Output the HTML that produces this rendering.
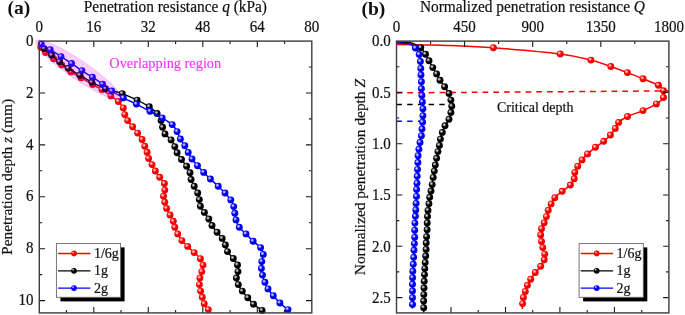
<!DOCTYPE html>
<html><head><meta charset="utf-8"><style>
html,body{margin:0;padding:0;background:#fff;}
svg{display:block;will-change:transform;}
.t{font-family:"Liberation Serif",serif;font-size:14px;fill:#111;stroke:#111;stroke-width:0.2px;}
.n{font-size:15px;}
.lab{font-family:"Liberation Serif",serif;font-size:19.5px;font-weight:bold;fill:#111;}
</style></head><body>
<svg width="685" height="315" viewBox="0 0 685 315">
<defs><radialGradient id="hl" cx="0.5" cy="0.5" r="0.5"><stop offset="0" stop-color="#fff" stop-opacity="0.92"/><stop offset="0.4" stop-color="#fff" stop-opacity="0.6"/><stop offset="1" stop-color="#fff" stop-opacity="0"/></radialGradient><radialGradient id="br" cx="0.42" cy="0.4" r="0.62"><stop offset="0" stop-color="#ff0000"/><stop offset="0.7" stop-color="#ff0000"/><stop offset="1" stop-color="#c80000"/></radialGradient><g id="mr"><circle r="3.45" fill="url(#br)"/><circle cx="-0.85" cy="-1.0" r="2.1" fill="url(#hl)"/></g><g id="lr"><circle r="2.9" fill="#ff0000"/><circle cx="-0.9" cy="-1.0" r="1.35" fill="url(#hl)"/></g><radialGradient id="bk" cx="0.42" cy="0.4" r="0.62"><stop offset="0" stop-color="#000"/><stop offset="0.7" stop-color="#000"/><stop offset="1" stop-color="#000"/></radialGradient><g id="mk"><circle r="3.45" fill="url(#bk)"/><circle cx="-0.85" cy="-1.0" r="2.1" fill="url(#hl)"/></g><g id="lk"><circle r="2.9" fill="#000"/><circle cx="-0.9" cy="-1.0" r="1.35" fill="url(#hl)"/></g><radialGradient id="bb" cx="0.42" cy="0.4" r="0.62"><stop offset="0" stop-color="#0000ff"/><stop offset="0.7" stop-color="#0000ff"/><stop offset="1" stop-color="#0000c0"/></radialGradient><g id="mb"><circle r="3.45" fill="url(#bb)"/><circle cx="-0.85" cy="-1.0" r="2.1" fill="url(#hl)"/></g><g id="lb"><circle r="2.9" fill="#0000ff"/><circle cx="-0.9" cy="-1.0" r="1.35" fill="url(#hl)"/></g></defs>
<path d="M396.5,92.9 L668.9,90.9" stroke="#ff0000" stroke-width="1.5" stroke-dasharray="5.8,4.95" fill="none"/>
<path d="M396.5,104.4 L451,104.4" stroke="#000" stroke-width="1.5" stroke-dasharray="5.4,5.3" fill="none"/>
<path d="M396.5,121.3 L421,121.3" stroke="#0000ff" stroke-width="1.5" stroke-dasharray="5.4,5.3" fill="none"/>
<path d="M39.50,41.60 C39.65,42.55 39.40,45.48 40.40,47.30 C41.40,49.12 43.30,50.60 45.50,52.50 C47.70,54.40 50.90,56.63 53.60,58.70 C56.30,60.77 58.82,62.70 61.70,64.90 C64.58,67.10 67.67,69.75 70.90,71.90 C74.13,74.05 77.48,75.68 81.10,77.80 C84.72,79.92 89.13,82.65 92.60,84.60 C96.07,86.55 98.85,87.62 101.90,89.50 C104.95,91.38 108.17,93.90 110.90,95.90 C113.63,97.90 116.23,99.50 118.30,101.50 C120.37,103.50 122.22,105.72 123.30,107.90 C124.38,110.08 124.07,112.48 124.80,114.60 C125.53,116.72 126.40,118.57 127.70,120.60 C129.00,122.63 130.95,124.72 132.60,126.80 C134.25,128.88 136.02,130.98 137.60,133.10 C139.18,135.22 140.90,137.32 142.10,139.50 C143.30,141.68 143.97,144.08 144.80,146.20 C145.63,148.32 146.47,150.17 147.10,152.20 C147.73,154.23 147.78,156.33 148.60,158.40 C149.42,160.47 150.88,162.50 152.00,164.60 C153.12,166.70 154.02,168.88 155.30,171.00 C156.58,173.12 158.18,175.22 159.70,177.30 C161.22,179.38 163.55,181.37 164.40,183.50 C165.25,185.63 164.95,187.98 164.80,190.10 C164.65,192.22 163.50,194.18 163.50,196.20 C163.50,198.22 164.28,200.17 164.80,202.20 C165.32,204.23 165.73,206.27 166.60,208.40 C167.47,210.53 168.88,212.85 170.00,215.00 C171.12,217.15 172.50,219.25 173.30,221.30 C174.10,223.35 174.07,225.20 174.80,227.30 C175.53,229.40 176.52,231.68 177.70,233.90 C178.88,236.12 180.23,238.52 181.90,240.60 C183.57,242.68 185.65,244.40 187.70,246.40 C189.75,248.40 192.08,250.55 194.20,252.60 C196.32,254.65 198.93,256.62 200.40,258.70 C201.87,260.78 202.77,262.95 203.00,265.10 C203.23,267.25 202.32,269.45 201.80,271.60 C201.28,273.75 200.30,275.83 199.90,278.00 C199.50,280.17 199.28,282.42 199.40,284.60 C199.52,286.78 200.12,288.98 200.60,291.10 C201.08,293.22 201.70,295.20 202.30,297.30 C202.90,299.40 203.20,301.65 204.20,303.70 C205.20,305.75 207.35,308.20 208.30,309.60 C209.25,311.00 209.63,311.68 209.90,312.10" fill="none" stroke="#ff0000" stroke-width="1.5" stroke-linejoin="round"/><use href="#mr" x="40.8" y="47.3"/><use href="#mr" x="45.5" y="52.5"/><use href="#mr" x="53.6" y="58.7"/><use href="#mr" x="61.7" y="64.9"/><use href="#mr" x="70.9" y="71.9"/><use href="#mr" x="81.1" y="77.8"/><use href="#mr" x="92.6" y="84.6"/><use href="#mr" x="101.9" y="89.5"/><use href="#mr" x="110.9" y="95.9"/><use href="#mr" x="118.3" y="101.5"/><use href="#mr" x="123.3" y="107.9"/><use href="#mr" x="124.8" y="114.6"/><use href="#mr" x="127.7" y="120.6"/><use href="#mr" x="132.6" y="126.8"/><use href="#mr" x="137.6" y="133.1"/><use href="#mr" x="142.1" y="139.5"/><use href="#mr" x="144.8" y="146.2"/><use href="#mr" x="147.1" y="152.2"/><use href="#mr" x="148.6" y="158.4"/><use href="#mr" x="152.0" y="164.6"/><use href="#mr" x="155.3" y="171.0"/><use href="#mr" x="159.7" y="177.3"/><use href="#mr" x="164.4" y="183.5"/><use href="#mr" x="164.8" y="190.1"/><use href="#mr" x="163.5" y="196.2"/><use href="#mr" x="164.8" y="202.2"/><use href="#mr" x="166.6" y="208.4"/><use href="#mr" x="170.0" y="215.0"/><use href="#mr" x="173.3" y="221.3"/><use href="#mr" x="174.8" y="227.3"/><use href="#mr" x="177.7" y="233.9"/><use href="#mr" x="181.9" y="240.6"/><use href="#mr" x="187.7" y="246.4"/><use href="#mr" x="194.2" y="252.6"/><use href="#mr" x="200.4" y="258.7"/><use href="#mr" x="203.0" y="265.1"/><use href="#mr" x="201.8" y="271.6"/><use href="#mr" x="199.9" y="278.0"/><use href="#mr" x="199.4" y="284.6"/><use href="#mr" x="200.6" y="291.1"/><use href="#mr" x="202.3" y="297.3"/><use href="#mr" x="204.2" y="303.7"/><use href="#mr" x="208.3" y="309.6"/>
<path d="M39.50,41.60 C40.27,42.78 42.07,46.42 44.10,48.70 C46.13,50.98 49.12,53.12 51.70,55.30 C54.28,57.48 56.85,59.63 59.60,61.80 C62.35,63.97 64.83,66.07 68.20,68.30 C71.57,70.53 75.85,72.88 79.80,75.20 C83.75,77.52 87.62,79.95 91.90,82.20 C96.18,84.45 100.45,86.80 105.50,88.70 C110.55,90.60 116.93,91.70 122.20,93.60 C127.47,95.50 132.58,97.90 137.10,100.10 C141.62,102.30 145.97,104.57 149.30,106.80 C152.63,109.03 155.13,111.20 157.10,113.50 C159.07,115.80 160.18,118.30 161.10,120.60 C162.02,122.90 161.95,125.08 162.60,127.30 C163.25,129.52 163.58,131.80 165.00,133.90 C166.42,136.00 169.47,137.78 171.10,139.90 C172.73,142.02 173.80,144.45 174.80,146.60 C175.80,148.75 175.98,150.65 177.10,152.80 C178.22,154.95 179.92,157.27 181.50,159.50 C183.08,161.73 185.18,163.98 186.60,166.20 C188.02,168.42 189.25,170.58 190.00,172.80 C190.75,175.02 190.40,177.27 191.10,179.50 C191.80,181.73 193.10,183.95 194.20,186.20 C195.30,188.45 196.85,190.77 197.70,193.00 C198.55,195.23 198.85,197.40 199.30,199.60 C199.75,201.80 199.55,204.07 200.40,206.20 C201.25,208.33 203.00,210.27 204.40,212.40 C205.80,214.53 207.53,216.82 208.80,219.00 C210.07,221.18 210.62,223.30 212.00,225.50 C213.38,227.70 215.40,230.05 217.10,232.20 C218.80,234.35 220.82,236.27 222.20,238.40 C223.58,240.53 224.52,242.80 225.40,245.00 C226.28,247.20 226.18,249.35 227.50,251.60 C228.82,253.85 231.63,256.28 233.30,258.50 C234.97,260.72 236.72,262.72 237.50,264.90 C238.28,267.08 238.18,269.42 238.00,271.60 C237.82,273.78 236.35,275.83 236.40,278.00 C236.45,280.17 237.32,282.42 238.30,284.60 C239.28,286.78 240.72,288.92 242.30,291.10 C243.88,293.28 245.93,295.52 247.80,297.70 C249.67,299.88 251.12,302.08 253.50,304.20 C255.88,306.32 260.28,309.00 262.10,310.40 C263.92,311.80 264.02,312.23 264.40,312.60" fill="none" stroke="#000" stroke-width="1.5" stroke-linejoin="round"/><use href="#mk" x="44.1" y="48.7"/><use href="#mk" x="51.7" y="55.3"/><use href="#mk" x="59.6" y="61.8"/><use href="#mk" x="68.2" y="68.3"/><use href="#mk" x="79.8" y="75.2"/><use href="#mk" x="91.9" y="82.2"/><use href="#mk" x="105.5" y="88.7"/><use href="#mk" x="122.2" y="93.6"/><use href="#mk" x="137.1" y="100.1"/><use href="#mk" x="149.3" y="106.8"/><use href="#mk" x="157.1" y="113.5"/><use href="#mk" x="161.1" y="120.6"/><use href="#mk" x="162.6" y="127.3"/><use href="#mk" x="165.0" y="133.9"/><use href="#mk" x="171.1" y="139.9"/><use href="#mk" x="174.8" y="146.6"/><use href="#mk" x="177.1" y="152.8"/><use href="#mk" x="181.5" y="159.5"/><use href="#mk" x="186.6" y="166.2"/><use href="#mk" x="190.0" y="172.8"/><use href="#mk" x="191.1" y="179.5"/><use href="#mk" x="194.2" y="186.2"/><use href="#mk" x="197.7" y="193.0"/><use href="#mk" x="199.3" y="199.6"/><use href="#mk" x="200.4" y="206.2"/><use href="#mk" x="204.4" y="212.4"/><use href="#mk" x="208.8" y="219.0"/><use href="#mk" x="212.0" y="225.5"/><use href="#mk" x="217.1" y="232.2"/><use href="#mk" x="222.2" y="238.4"/><use href="#mk" x="225.4" y="245.0"/><use href="#mk" x="227.5" y="251.6"/><use href="#mk" x="233.3" y="258.5"/><use href="#mk" x="237.5" y="264.9"/><use href="#mk" x="238.0" y="271.6"/><use href="#mk" x="236.4" y="278.0"/><use href="#mk" x="238.3" y="284.6"/><use href="#mk" x="242.3" y="291.1"/><use href="#mk" x="247.8" y="297.7"/><use href="#mk" x="253.5" y="304.2"/><use href="#mk" x="262.1" y="310.4"/>
<path d="M39.50,41.60 C39.73,42.02 39.12,42.75 40.90,44.10 C42.68,45.45 46.85,47.62 50.20,49.70 C53.55,51.78 57.43,54.30 61.00,56.60 C64.57,58.90 68.12,61.17 71.60,63.50 C75.08,65.83 78.43,68.32 81.90,70.60 C85.37,72.88 88.95,74.95 92.40,77.20 C95.85,79.45 99.38,81.80 102.60,84.10 C105.82,86.40 108.25,88.70 111.70,91.00 C115.15,93.30 119.18,95.72 123.30,97.90 C127.42,100.08 131.95,101.87 136.40,104.10 C140.85,106.33 145.70,109.00 150.00,111.30 C154.30,113.60 158.50,115.68 162.20,117.90 C165.90,120.12 169.72,122.32 172.20,124.60 C174.68,126.88 175.73,129.20 177.10,131.60 C178.47,134.00 179.12,136.65 180.40,139.00 C181.68,141.35 183.50,143.47 184.80,145.70 C186.10,147.93 187.00,150.18 188.20,152.40 C189.40,154.62 190.45,156.78 192.00,159.00 C193.55,161.22 195.55,163.47 197.50,165.70 C199.45,167.93 201.55,170.18 203.70,172.40 C205.85,174.62 207.98,176.70 210.40,179.00 C212.82,181.30 215.77,183.87 218.20,186.20 C220.63,188.53 222.90,190.72 225.00,193.00 C227.10,195.28 229.35,197.63 230.80,199.90 C232.25,202.17 233.03,204.37 233.70,206.60 C234.37,208.83 234.42,211.08 234.80,213.30 C235.18,215.52 235.25,217.57 236.00,219.90 C236.75,222.23 237.63,224.97 239.30,227.30 C240.97,229.63 243.70,231.58 246.00,233.90 C248.30,236.22 250.67,238.92 253.10,241.20 C255.53,243.48 258.90,245.40 260.60,247.60 C262.30,249.80 263.10,252.07 263.30,254.40 C263.50,256.73 262.12,259.25 261.80,261.60 C261.48,263.95 261.28,266.25 261.40,268.50 C261.52,270.75 261.92,272.80 262.50,275.10 C263.08,277.40 263.98,280.00 264.90,282.30 C265.82,284.60 266.60,286.65 268.00,288.90 C269.40,291.15 271.32,293.45 273.30,295.80 C275.28,298.15 277.45,300.70 279.90,303.00 C282.35,305.30 286.33,308.17 288.00,309.60 C289.67,311.03 289.58,311.27 289.90,311.60" fill="none" stroke="#0000ff" stroke-width="1.5" stroke-linejoin="round"/><use href="#mb" x="41.3" y="44.1"/><use href="#mb" x="50.2" y="49.7"/><use href="#mb" x="61.0" y="56.6"/><use href="#mb" x="71.6" y="63.5"/><use href="#mb" x="81.9" y="70.6"/><use href="#mb" x="92.4" y="77.2"/><use href="#mb" x="102.6" y="84.1"/><use href="#mb" x="111.7" y="91.0"/><use href="#mb" x="123.3" y="97.9"/><use href="#mb" x="136.4" y="104.1"/><use href="#mb" x="150.0" y="111.3"/><use href="#mb" x="162.2" y="117.9"/><use href="#mb" x="172.2" y="124.6"/><use href="#mb" x="177.1" y="131.6"/><use href="#mb" x="180.4" y="139.0"/><use href="#mb" x="184.8" y="145.7"/><use href="#mb" x="188.2" y="152.4"/><use href="#mb" x="192.0" y="159.0"/><use href="#mb" x="197.5" y="165.7"/><use href="#mb" x="203.7" y="172.4"/><use href="#mb" x="210.4" y="179.0"/><use href="#mb" x="218.2" y="186.2"/><use href="#mb" x="225.0" y="193.0"/><use href="#mb" x="230.8" y="199.9"/><use href="#mb" x="233.7" y="206.6"/><use href="#mb" x="234.8" y="213.3"/><use href="#mb" x="236.0" y="219.9"/><use href="#mb" x="239.3" y="227.3"/><use href="#mb" x="246.0" y="233.9"/><use href="#mb" x="253.1" y="241.2"/><use href="#mb" x="260.6" y="247.6"/><use href="#mb" x="263.3" y="254.4"/><use href="#mb" x="261.8" y="261.6"/><use href="#mb" x="261.4" y="268.5"/><use href="#mb" x="262.5" y="275.1"/><use href="#mb" x="264.9" y="282.3"/><use href="#mb" x="268.0" y="288.9"/><use href="#mb" x="273.3" y="295.8"/><use href="#mb" x="279.9" y="303.0"/><use href="#mb" x="288.0" y="309.6"/>
<path d="M396.50,44.40 C400.62,44.48 412.22,44.70 421.20,44.90 C430.18,45.10 438.37,45.12 450.40,45.60 C462.43,46.08 475.10,46.42 493.40,47.80 C511.70,49.18 543.95,51.85 560.20,53.90 C576.45,55.95 582.47,58.00 590.90,60.10 C599.33,62.20 604.72,64.42 610.80,66.50 C616.88,68.58 622.03,70.55 627.40,72.60 C632.77,74.65 637.83,76.70 643.00,78.80 C648.17,80.90 654.98,83.22 658.40,85.20 C661.82,87.18 662.65,88.65 663.50,90.70 C664.35,92.75 664.68,95.30 663.50,97.50 C662.32,99.70 659.82,101.72 656.40,103.90 C652.98,106.08 647.82,108.50 643.00,110.60 C638.18,112.70 631.57,114.53 627.50,116.50 C623.43,118.47 620.63,120.42 618.60,122.40 C616.57,124.38 616.67,126.30 615.30,128.40 C613.93,130.50 612.33,132.85 610.40,135.00 C608.47,137.15 606.18,139.25 603.70,141.30 C601.22,143.35 598.20,145.20 595.50,147.30 C592.80,149.40 589.75,151.80 587.50,153.90 C585.25,156.00 583.63,157.85 582.00,159.90 C580.37,161.95 578.90,164.12 577.70,166.20 C576.50,168.28 575.38,170.30 574.80,172.40 C574.22,174.50 574.93,176.70 574.20,178.80 C573.47,180.90 572.40,182.92 570.40,185.00 C568.40,187.08 564.80,189.18 562.20,191.30 C559.60,193.42 556.65,195.60 554.80,197.70 C552.95,199.80 552.20,201.82 551.10,203.90 C550.00,205.98 548.98,208.08 548.20,210.20 C547.42,212.32 547.07,214.50 546.40,216.60 C545.73,218.70 545.02,220.77 544.20,222.80 C543.38,224.83 542.08,226.78 541.50,228.80 C540.92,230.82 540.70,232.80 540.70,234.90 C540.70,237.00 541.15,239.28 541.50,241.40 C541.85,243.52 542.27,245.48 542.80,247.60 C543.33,249.72 544.47,252.07 544.70,254.10 C544.93,256.13 544.87,257.77 544.20,259.80 C543.53,261.83 542.18,264.18 540.70,266.30 C539.22,268.42 536.97,270.35 535.30,272.50 C533.63,274.65 532.02,277.08 530.70,279.20 C529.38,281.32 528.30,283.17 527.40,285.20 C526.50,287.23 525.97,289.37 525.30,291.40 C524.63,293.43 523.85,295.37 523.40,297.40 C522.95,299.43 522.78,301.67 522.60,303.60 C522.42,305.53 522.35,308.10 522.30,309.00" fill="none" stroke="#ff0000" stroke-width="1.5" stroke-linejoin="round"/><use href="#mr" x="493.4" y="47.8"/><use href="#mr" x="560.2" y="53.9"/><use href="#mr" x="590.9" y="60.1"/><use href="#mr" x="610.8" y="66.5"/><use href="#mr" x="627.4" y="72.6"/><use href="#mr" x="643.0" y="78.8"/><use href="#mr" x="658.4" y="85.2"/><use href="#mr" x="663.5" y="90.7"/><use href="#mr" x="663.5" y="97.5"/><use href="#mr" x="656.4" y="103.9"/><use href="#mr" x="643.0" y="110.6"/><use href="#mr" x="627.5" y="116.5"/><use href="#mr" x="618.6" y="122.4"/><use href="#mr" x="615.3" y="128.4"/><use href="#mr" x="610.4" y="135.0"/><use href="#mr" x="603.7" y="141.3"/><use href="#mr" x="595.5" y="147.3"/><use href="#mr" x="587.5" y="153.9"/><use href="#mr" x="582.0" y="159.9"/><use href="#mr" x="577.7" y="166.2"/><use href="#mr" x="574.8" y="172.4"/><use href="#mr" x="574.2" y="178.8"/><use href="#mr" x="570.4" y="185.0"/><use href="#mr" x="562.2" y="191.3"/><use href="#mr" x="554.8" y="197.7"/><use href="#mr" x="551.1" y="203.9"/><use href="#mr" x="548.2" y="210.2"/><use href="#mr" x="546.4" y="216.6"/><use href="#mr" x="544.2" y="222.8"/><use href="#mr" x="541.5" y="228.8"/><use href="#mr" x="540.7" y="234.9"/><use href="#mr" x="541.5" y="241.4"/><use href="#mr" x="542.8" y="247.6"/><use href="#mr" x="544.7" y="254.1"/><use href="#mr" x="544.2" y="259.8"/><use href="#mr" x="540.7" y="266.3"/><use href="#mr" x="535.3" y="272.5"/><use href="#mr" x="530.7" y="279.2"/><use href="#mr" x="527.4" y="285.2"/><use href="#mr" x="525.3" y="291.4"/><use href="#mr" x="523.4" y="297.4"/><use href="#mr" x="522.6" y="303.6"/>
<path d="M396.50,42.00 C398.15,42.05 403.58,42.03 406.40,42.30 C409.22,42.57 411.00,42.70 413.40,43.60 C415.80,44.50 418.78,45.93 420.80,47.70 C422.82,49.47 424.13,52.02 425.50,54.20 C426.87,56.38 427.78,58.57 429.00,60.80 C430.22,63.03 431.53,65.42 432.80,67.60 C434.07,69.78 435.40,71.80 436.60,73.90 C437.80,76.00 438.67,78.05 440.00,80.20 C441.33,82.35 443.10,84.58 444.60,86.80 C446.10,89.02 447.95,91.28 449.00,93.50 C450.05,95.72 450.43,97.98 450.90,100.10 C451.37,102.22 451.80,104.13 451.80,106.20 C451.80,108.27 451.37,110.33 450.90,112.50 C450.43,114.67 449.98,116.98 449.00,119.20 C448.02,121.42 446.12,123.60 445.00,125.80 C443.88,128.00 443.07,130.18 442.30,132.40 C441.53,134.62 440.88,136.93 440.40,139.10 C439.92,141.27 439.82,143.32 439.40,145.40 C438.98,147.48 438.37,149.45 437.90,151.60 C437.43,153.75 437.03,156.07 436.60,158.30 C436.17,160.53 435.68,162.87 435.30,165.00 C434.92,167.13 434.65,169.03 434.30,171.10 C433.95,173.17 433.55,175.15 433.20,177.40 C432.85,179.65 432.57,182.33 432.20,184.60 C431.83,186.87 431.42,188.88 431.00,191.00 C430.58,193.12 430.05,195.17 429.70,197.30 C429.35,199.43 429.18,201.62 428.90,203.80 C428.62,205.98 428.23,208.28 428.00,210.40 C427.77,212.52 427.63,214.42 427.50,216.50 C427.37,218.58 427.27,220.70 427.20,222.90 C427.13,225.10 427.20,227.40 427.10,229.70 C427.00,232.00 426.75,234.48 426.60,236.70 C426.45,238.92 426.28,240.88 426.20,243.00 C426.12,245.12 426.18,247.23 426.10,249.40 C426.02,251.57 425.85,253.82 425.70,256.00 C425.55,258.18 425.35,260.40 425.20,262.50 C425.05,264.60 424.92,266.58 424.80,268.60 C424.68,270.62 424.60,272.48 424.50,274.60 C424.40,276.72 424.28,279.07 424.20,281.30 C424.12,283.53 424.07,285.78 424.00,288.00 C423.93,290.22 423.85,292.43 423.80,294.60 C423.75,296.77 423.72,298.82 423.70,301.00 C423.68,303.18 423.70,305.85 423.70,307.70 C423.70,309.55 423.70,311.37 423.70,312.10" fill="none" stroke="#000" stroke-width="1.5" stroke-linejoin="round"/><use href="#mk" x="420.8" y="47.7"/><use href="#mk" x="425.5" y="54.2"/><use href="#mk" x="429.0" y="60.8"/><use href="#mk" x="432.8" y="67.6"/><use href="#mk" x="436.6" y="73.9"/><use href="#mk" x="440.0" y="80.2"/><use href="#mk" x="444.6" y="86.8"/><use href="#mk" x="449.0" y="93.5"/><use href="#mk" x="450.9" y="100.1"/><use href="#mk" x="451.8" y="106.2"/><use href="#mk" x="450.9" y="112.5"/><use href="#mk" x="449.0" y="119.2"/><use href="#mk" x="445.0" y="125.8"/><use href="#mk" x="442.3" y="132.4"/><use href="#mk" x="440.4" y="139.1"/><use href="#mk" x="439.4" y="145.4"/><use href="#mk" x="437.9" y="151.6"/><use href="#mk" x="436.6" y="158.3"/><use href="#mk" x="435.3" y="165.0"/><use href="#mk" x="434.3" y="171.1"/><use href="#mk" x="433.2" y="177.4"/><use href="#mk" x="432.2" y="184.6"/><use href="#mk" x="431.0" y="191.0"/><use href="#mk" x="429.7" y="197.3"/><use href="#mk" x="428.9" y="203.8"/><use href="#mk" x="428.0" y="210.4"/><use href="#mk" x="427.5" y="216.5"/><use href="#mk" x="427.2" y="222.9"/><use href="#mk" x="427.1" y="229.7"/><use href="#mk" x="426.6" y="236.7"/><use href="#mk" x="426.2" y="243.0"/><use href="#mk" x="426.1" y="249.4"/><use href="#mk" x="425.7" y="256.0"/><use href="#mk" x="425.2" y="262.5"/><use href="#mk" x="424.8" y="268.6"/><use href="#mk" x="424.5" y="274.6"/><use href="#mk" x="424.2" y="281.3"/><use href="#mk" x="424.0" y="288.0"/><use href="#mk" x="423.8" y="294.6"/><use href="#mk" x="423.7" y="301.0"/><use href="#mk" x="423.7" y="307.7"/>
<path d="M396.50,43.00 C397.82,43.07 402.08,43.17 404.40,43.40 C406.72,43.63 408.57,43.62 410.40,44.40 C412.23,45.18 413.93,46.42 415.40,48.10 C416.87,49.78 418.37,52.27 419.20,54.50 C420.03,56.73 420.13,59.17 420.40,61.50 C420.67,63.83 420.70,66.27 420.80,68.50 C420.90,70.73 420.90,72.68 421.00,74.90 C421.10,77.12 421.33,79.48 421.40,81.80 C421.47,84.12 421.32,86.53 421.40,88.80 C421.48,91.07 421.73,93.20 421.90,95.40 C422.07,97.60 422.23,99.78 422.40,102.00 C422.57,104.22 422.82,106.42 422.90,108.70 C422.98,110.98 422.95,113.45 422.90,115.70 C422.85,117.95 422.75,119.98 422.60,122.20 C422.45,124.42 422.20,126.73 422.00,129.00 C421.80,131.27 421.73,133.55 421.40,135.80 C421.07,138.05 420.42,140.27 420.00,142.50 C419.58,144.73 419.22,146.98 418.90,149.20 C418.58,151.42 418.27,153.58 418.10,155.80 C417.93,158.02 418.00,160.23 417.90,162.50 C417.80,164.77 417.62,167.12 417.50,169.40 C417.38,171.68 417.28,173.90 417.20,176.20 C417.12,178.50 417.10,180.98 417.00,183.20 C416.90,185.42 416.68,187.30 416.60,189.50 C416.52,191.70 416.58,194.08 416.50,196.40 C416.42,198.72 416.22,201.15 416.10,203.40 C415.98,205.65 415.92,207.75 415.80,209.90 C415.68,212.05 415.55,214.10 415.40,216.30 C415.25,218.50 415.02,220.78 414.90,223.10 C414.78,225.42 414.73,227.85 414.70,230.20 C414.67,232.55 414.75,234.97 414.70,237.20 C414.65,239.43 414.52,241.42 414.40,243.60 C414.28,245.78 414.12,248.02 414.00,250.30 C413.88,252.58 413.82,254.97 413.70,257.30 C413.58,259.63 413.45,261.98 413.30,264.30 C413.15,266.62 412.92,268.97 412.80,271.20 C412.68,273.43 412.65,275.53 412.60,277.70 C412.55,279.87 412.52,281.98 412.50,284.20 C412.48,286.42 412.50,288.75 412.50,291.00 C412.50,293.25 412.50,295.45 412.50,297.70 C412.50,299.95 412.52,302.68 412.50,304.50 C412.48,306.32 412.42,307.92 412.40,308.60" fill="none" stroke="#0000ff" stroke-width="1.5" stroke-linejoin="round"/><use href="#mb" x="415.4" y="48.1"/><use href="#mb" x="419.2" y="54.5"/><use href="#mb" x="420.4" y="61.5"/><use href="#mb" x="420.8" y="68.5"/><use href="#mb" x="421.0" y="74.9"/><use href="#mb" x="421.4" y="81.8"/><use href="#mb" x="421.4" y="88.8"/><use href="#mb" x="421.9" y="95.4"/><use href="#mb" x="422.4" y="102.0"/><use href="#mb" x="422.9" y="108.7"/><use href="#mb" x="422.9" y="115.7"/><use href="#mb" x="422.6" y="122.2"/><use href="#mb" x="422.0" y="129.0"/><use href="#mb" x="421.4" y="135.8"/><use href="#mb" x="420.0" y="142.5"/><use href="#mb" x="418.9" y="149.2"/><use href="#mb" x="418.1" y="155.8"/><use href="#mb" x="417.9" y="162.5"/><use href="#mb" x="417.5" y="169.4"/><use href="#mb" x="417.2" y="176.2"/><use href="#mb" x="417.0" y="183.2"/><use href="#mb" x="416.6" y="189.5"/><use href="#mb" x="416.5" y="196.4"/><use href="#mb" x="416.1" y="203.4"/><use href="#mb" x="415.8" y="209.9"/><use href="#mb" x="415.4" y="216.3"/><use href="#mb" x="414.9" y="223.1"/><use href="#mb" x="414.7" y="230.2"/><use href="#mb" x="414.7" y="237.2"/><use href="#mb" x="414.4" y="243.6"/><use href="#mb" x="414.0" y="250.3"/><use href="#mb" x="413.7" y="257.3"/><use href="#mb" x="413.3" y="264.3"/><use href="#mb" x="412.8" y="271.2"/><use href="#mb" x="412.6" y="277.7"/><use href="#mb" x="412.5" y="284.2"/><use href="#mb" x="412.5" y="291.0"/><use href="#mb" x="412.5" y="297.7"/><use href="#mb" x="412.5" y="304.5"/>
<ellipse cx="78.3" cy="69.7" rx="51" ry="9.4" fill="#dc00f0" fill-opacity="0.19" stroke="#c000e0" stroke-opacity="0.18" stroke-width="1" transform="rotate(34.2 78.3 69.7)"/>
<path d="M66.5,41.1 v2.9 M66.5,312.9 v-2.9 M93.8,41.1 v5.8 M93.8,312.9 v-5.8 M121.0,41.1 v2.9 M121.0,312.9 v-2.9 M148.3,41.1 v5.8 M148.3,312.9 v-5.8 M175.6,41.1 v2.9 M175.6,312.9 v-2.9 M202.8,41.1 v5.8 M202.8,312.9 v-5.8 M230.1,41.1 v2.9 M230.1,312.9 v-2.9 M257.3,41.1 v5.8 M257.3,312.9 v-5.8 M284.6,41.1 v2.9 M284.6,312.9 v-2.9 M39.3,67.0 h2.9 M311.8,67.0 h-2.9 M39.3,93.0 h5.8 M311.8,93.0 h-5.8 M39.3,118.9 h2.9 M311.8,118.9 h-2.9 M39.3,144.9 h5.8 M311.8,144.9 h-5.8 M39.3,170.8 h2.9 M311.8,170.8 h-2.9 M39.3,196.8 h5.8 M311.8,196.8 h-5.8 M39.3,222.8 h2.9 M311.8,222.8 h-2.9 M39.3,248.7 h5.8 M311.8,248.7 h-5.8 M39.3,274.6 h2.9 M311.8,274.6 h-2.9 M39.3,300.6 h5.8 M311.8,300.6 h-5.8 M430.6,41.1 v2.9 M464.6,41.1 v5.8 M498.6,41.1 v2.9 M532.7,41.1 v5.8 M566.8,41.1 v2.9 M600.8,41.1 v5.8 M634.8,41.1 v2.9 M423.7,312.9 v-2.9 M451.0,312.9 v-5.8 M478.2,312.9 v-2.9 M505.5,312.9 v-5.8 M532.7,312.9 v-2.9 M559.9,312.9 v-5.8 M587.2,312.9 v-2.9 M614.4,312.9 v-5.8 M641.7,312.9 v-2.9 M396.5,66.8 h2.8 M668.9,66.8 h-2.8 M396.5,92.4 h5.8 M668.9,92.4 h-5.8 M396.5,118.0 h2.8 M668.9,118.0 h-2.8 M396.5,143.7 h5.8 M668.9,143.7 h-5.8 M396.5,169.3 h2.8 M668.9,169.3 h-2.8 M396.5,195.0 h5.8 M668.9,195.0 h-5.8 M396.5,220.6 h2.8 M668.9,220.6 h-2.8 M396.5,246.3 h5.8 M668.9,246.3 h-5.8 M396.5,271.9 h2.8 M668.9,271.9 h-2.8 M396.5,297.6 h5.8 M668.9,297.6 h-5.8" stroke="#181818" stroke-width="1.1" fill="none"/>
<rect x="39.3" y="41.1" width="272.5" height="271.8" fill="none" stroke="#3c3c3c" stroke-width="1.4"/>
<rect x="396.5" y="41.1" width="272.4" height="271.8" fill="none" stroke="#3c3c3c" stroke-width="1.4"/>
<rect x="60.4" y="247.4" width="64.2" height="54.0" fill="#000"/><rect x="56.4" y="243.6" width="64.2" height="53.7" fill="#fff" stroke="#666" stroke-width="0.9"/><path d="M58.0,253.5 h32.4" stroke="#ff0000" stroke-width="1.3"/><use href="#lr" x="74.0" y="253.5"/><text transform="translate(93.9,258.1) scale(1,1.07)" class="t">1/6g</text><path d="M58.0,270.8 h32.4" stroke="#000" stroke-width="1.3"/><use href="#lk" x="74.0" y="270.8"/><text transform="translate(93.9,275.4) scale(1,1.07)" class="t">1g</text><path d="M58.0,288.1 h32.4" stroke="#0000ff" stroke-width="1.3"/><use href="#lb" x="74.0" y="288.1"/><text transform="translate(93.9,292.7) scale(1,1.07)" class="t">2g</text>
<rect x="583.1" y="247.4" width="64.2" height="54.0" fill="#000"/><rect x="579.1" y="243.6" width="64.2" height="53.7" fill="#fff" stroke="#666" stroke-width="0.9"/><path d="M580.7,253.5 h32.4" stroke="#ff0000" stroke-width="1.3"/><use href="#lr" x="596.7" y="253.5"/><text transform="translate(616.6,258.1) scale(1,1.07)" class="t">1/6g</text><path d="M580.7,270.8 h32.4" stroke="#000" stroke-width="1.3"/><use href="#lk" x="596.7" y="270.8"/><text transform="translate(616.6,275.4) scale(1,1.07)" class="t">1g</text><path d="M580.7,288.1 h32.4" stroke="#0000ff" stroke-width="1.3"/><use href="#lb" x="596.7" y="288.1"/><text transform="translate(616.6,292.7) scale(1,1.07)" class="t">2g</text>
<text x="7.6" y="14.4" class="lab">(a)</text>
<text x="361.4" y="14.6" class="lab">(b)</text>
<text transform="translate(175.4,12.0) scale(1,1.05)" class="t" style="font-size:15.4px" text-anchor="middle">Penetration resistance <tspan font-style="italic">q</tspan> (kPa)</text>
<text transform="translate(532.4,12.0) scale(1,1.05)" class="t" style="font-size:15.4px" text-anchor="middle">Normalized penetration resistance <tspan font-style="italic">Q</tspan></text>
<text transform="translate(39.3,31.6) scale(1,1.07)" class="t n" text-anchor="middle">0</text>
<text transform="translate(93.8,31.6) scale(1,1.07)" class="t n" text-anchor="middle">16</text>
<text transform="translate(148.3,31.6) scale(1,1.07)" class="t n" text-anchor="middle">32</text>
<text transform="translate(202.8,31.6) scale(1,1.07)" class="t n" text-anchor="middle">48</text>
<text transform="translate(257.3,31.6) scale(1,1.07)" class="t n" text-anchor="middle">64</text>
<text transform="translate(311.8,31.6) scale(1,1.07)" class="t n" text-anchor="middle">80</text>
<text transform="translate(396.5,31.6) scale(1,1.07)" class="t n" text-anchor="middle">0</text>
<text transform="translate(464.6,31.6) scale(1,1.07)" class="t n" text-anchor="middle">450</text>
<text transform="translate(532.7,31.6) scale(1,1.07)" class="t n" text-anchor="middle">900</text>
<text transform="translate(600.8,31.6) scale(1,1.07)" class="t n" text-anchor="middle">1350</text>
<text transform="translate(668.9,31.6) scale(1,1.07)" class="t n" text-anchor="middle">1800</text>
<text transform="translate(33.6,45.7) scale(1,1.07)" class="t n" text-anchor="end">0</text>
<text transform="translate(33.6,97.6) scale(1,1.07)" class="t n" text-anchor="end">2</text>
<text transform="translate(33.6,149.5) scale(1,1.07)" class="t n" text-anchor="end">4</text>
<text transform="translate(33.6,201.4) scale(1,1.07)" class="t n" text-anchor="end">6</text>
<text transform="translate(33.6,253.3) scale(1,1.07)" class="t n" text-anchor="end">8</text>
<text transform="translate(33.6,305.2) scale(1,1.07)" class="t n" text-anchor="end">10</text>
<text transform="translate(390.8,46.3) scale(1,1.07)" class="t n" text-anchor="end">0.0</text>
<text transform="translate(390.8,97.6) scale(1,1.07)" class="t n" text-anchor="end">0.5</text>
<text transform="translate(390.8,148.9) scale(1,1.07)" class="t n" text-anchor="end">1.0</text>
<text transform="translate(390.8,200.2) scale(1,1.07)" class="t n" text-anchor="end">1.5</text>
<text transform="translate(390.8,251.5) scale(1,1.07)" class="t n" text-anchor="end">2.0</text>
<text transform="translate(390.8,302.8) scale(1,1.07)" class="t n" text-anchor="end">2.5</text>
<text transform="translate(11.5,176.9) rotate(-90)" class="t" style="font-size:15.4px" text-anchor="middle">Penetration depth <tspan font-style="italic">z</tspan> (mm)</text>
<text transform="translate(365.0,177.1) rotate(-90)" class="t" style="font-size:15.4px" text-anchor="middle">Normalized penetration depth <tspan font-style="italic">Z</tspan></text>
<text transform="translate(109.3,68.2) scale(1,1.05)" class="t" style="fill:#ff2cff;stroke:#ff2cff;stroke-width:0.1px;font-size:14.35px">Overlapping region</text>
<text transform="translate(496.9,112.3) scale(1,1.05)" class="t">Critical depth</text>
</svg></body></html>
